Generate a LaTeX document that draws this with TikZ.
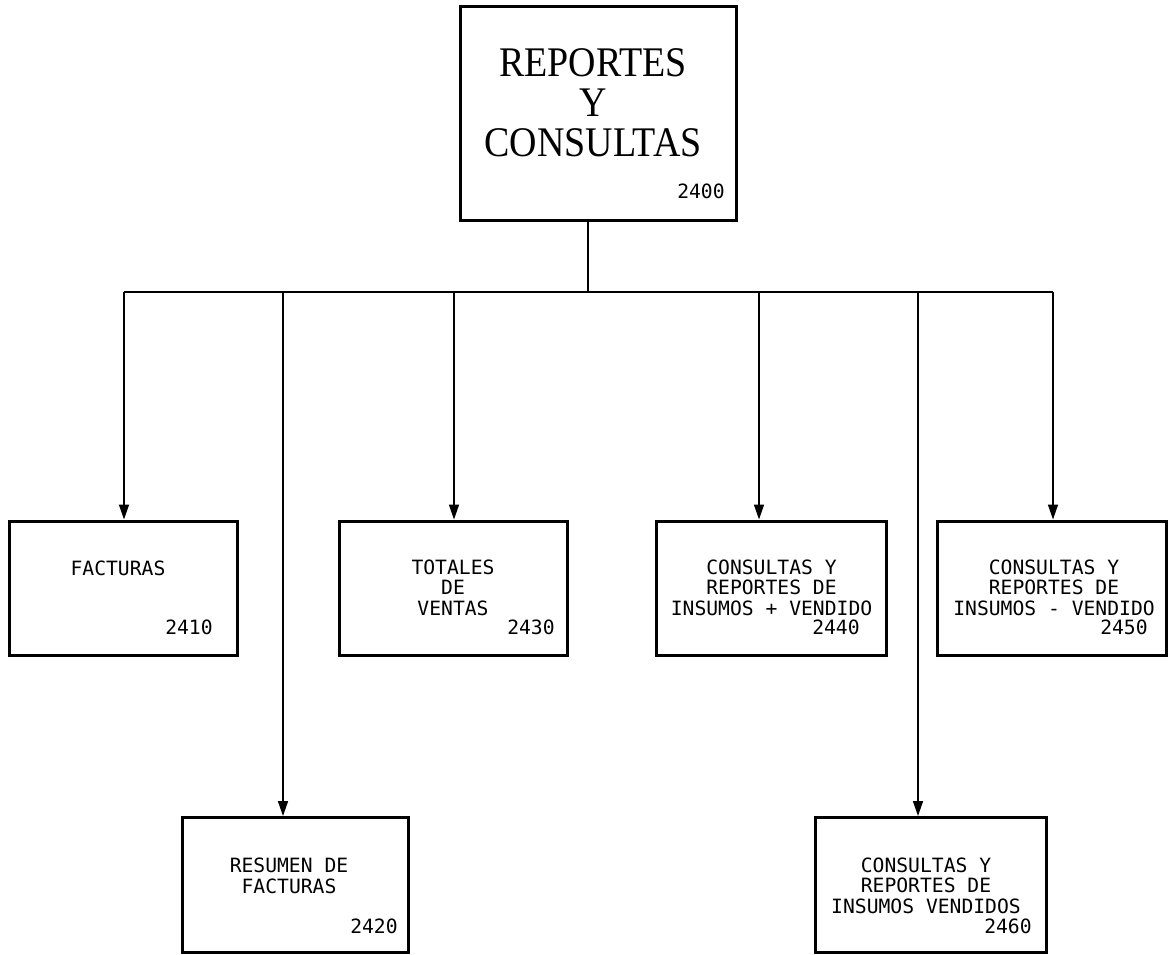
\documentclass[tikz,border=0pt]{standalone}
\usepackage{fontspec}
\usetikzlibrary{arrows.meta}
\newfontfamily\titlefont[FakeStretch=0.9]{Liberation Serif}
\newfontfamily\boxfont{DejaVu Sans Mono}

\begin{document}
\begin{tikzpicture}[x=0.02cm, y=-0.02cm,
  modulo/.style={draw, line width=1.7pt, inner sep=0pt, minimum width=4.58cm, minimum height=2.7cm},
  texto/.style={font=\boxfont\fontsize{11.2}{11.4}\selectfont, align=center, inner sep=0pt, anchor=base},
  codigo/.style={font=\boxfont\fontsize{11.2}{11.4}\selectfont, inner sep=0pt, anchor=base east},
  linea/.style={line width=0.85pt},
  flecha/.style={line width=0.85pt, -{Triangle[length=0.3cm, width=0.2cm]}}]
\useasboundingbox (0,0) rectangle (1169,955);
%main module
\node[modulo, minimum width=5.54cm, minimum height=4.3cm] (r2400) at (598.5,113.5) {};
\node[font=\titlefont\fontsize{24}{22.8}\selectfont, align=center, anchor=base, inner sep=0pt] (titulo) at (593,157) {REPORTES\\Y\\CONSULTAS};
\node[codigo] (n2400) at (725,199) {2400};
%first row (last line baselines)
\node[modulo] (r2410) at (123.5,588.5) {};
\node[modulo] (r2430) at (453.5,588.5) {};
\node[modulo, minimum width=4.62cm] (r2440) at (771.5,588.5) {};
\node[modulo] (r2450) at (1052,588.5) {};
\node[texto] (t2410) at (118,576) {FACTURAS};
\node[texto] (t2430) at (453,615) {TOTALES\\DE\\VENTAS};
\node[texto] (t2440) at (771.5,615) {CONSULTAS Y\\REPORTES DE\\INSUMOS + VENDIDO};
\node[texto] (t2450) at (1054,615) {CONSULTAS Y\\REPORTES DE\\INSUMOS - VENDIDO};
\node[codigo] (n2410) at (213,634) {2410};
\node[codigo] (n2430) at (555,634) {2430};
\node[codigo] (n2440) at (860,634) {2440};
\node[codigo] (n2450) at (1148,634) {2450};
%second row
\node[modulo, minimum width=4.54cm] (r2420) at (295.5,885) {};
\node[modulo, minimum width=4.64cm] (r2460) at (931,885) {};
\node[texto] (t2420) at (289,893) {RESUMEN DE\\FACTURAS};
\node[texto] (t2460) at (926,913) {CONSULTAS Y\\REPORTES DE\\INSUMOS VENDIDOS};
\node[codigo] (n2420) at (398,933) {2420};
\node[codigo] (n2460) at (1032,933) {2460};
%bar and drops
\coordinate (bar) at (588,292);
\coordinate (d2410) at (124,292);
\coordinate (d2420) at (283,292);
\coordinate (d2430) at (454,292);
\coordinate (d2440) at (759,292);
\coordinate (d2460) at (918,292);
\coordinate (d2450) at (1053,292);
\draw[linea] (r2400.south -| bar) -- (bar);
\draw[linea] (d2410) -- (d2450);
\draw[flecha] (d2410) -- (d2410 |- r2410.north);
\draw[flecha] (d2420) -- (d2420 |- r2420.north);
\draw[flecha] (d2430) -- (d2430 |- r2430.north);
\draw[flecha] (d2440) -- (d2440 |- r2440.north);
\draw[flecha] (d2460) -- (d2460 |- r2460.north);
\draw[flecha] (d2450) -- (d2450 |- r2450.north);
\end{tikzpicture}
\end{document}
